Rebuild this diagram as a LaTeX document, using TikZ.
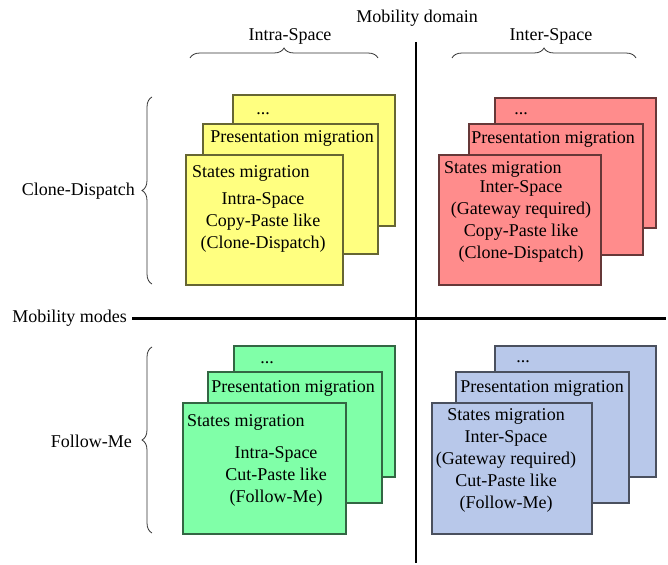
\documentclass[tikz,border=0pt]{standalone}
\usepackage{fontspec}
\setmainfont{Liberation Serif}
\usetikzlibrary{decorations.pathreplacing}

\definecolor{cyellow}{HTML}{FFFF80}
\definecolor{cred}{HTML}{FF8C8C}
\definecolor{cgreen}{HTML}{80FFA8}
\definecolor{cblue}{HTML}{B8C8EA}

\tikzset{
  lbl/.style={font=\fontsize{18}{22}\selectfont, inner sep=0pt, yshift=-1.5pt},
  lines/.style={lbl, align=center},
  card/.style={draw=#1!40!black, fill=#1, line width=1.1pt},
  axis/.style={line width=2.5pt},
  brc/.style={decorate, decoration={brace, amplitude=10pt}, line width=0.8pt, draw=black!80}
}

\begin{document}
\begin{tikzpicture}[x=1pt, y=-1pt]

        \useasboundingbox (0,0) rectangle (668,564);

        % Mobility domain / modes
        \node[lbl] (domain) at (417,17) {Mobility domain};
        \node[lbl, anchor=east] (modes) at (127,317) {Mobility modes};
        \coordinate (top)    at (416,42);
        \coordinate (bottom) at (416,563);
        \coordinate (right)  at (666,317);
        \draw[axis] (top) -- (bottom);
        \draw[axis] ([xshift=5pt]modes.east) -- (right |- modes.east);

        % Columns
        \node[lbl] (intra) at (290,35) {Intra-Space};
        \node[lbl] (inter) at (551,35) {Inter-Space};
        \draw[brc] (190,58) -- (378,58);
        \draw[brc] (452,58) -- (636,58);

        % Rows
        \node[lbl, anchor=east] (clone)  at (135,190) {Clone-Dispatch};
        \node[lbl, anchor=east] (follow) at (132,440) {Follow-Me};
        \draw[brc] (152,284) -- (152,97);
        \draw[brc] (152,533) -- (152,347);

        % Intra-Space, Clone-Dispatch
        \draw[card=cyellow] (233, 95) rectangle (395,226);
        \draw[card=cyellow] (203,124) rectangle (378,254);
        \draw[card=cyellow] (186,155) rectangle (343,285);
        \node[lbl] (ydots) at (263,112) {...};
        \node[lbl] (ypres) at (292,137) {Presentation migration};
        \node[lbl, anchor=west] (ystate) at (192,172) {States migration};
        \node[lines] (ytxt) at (263,221) {Intra-Space\\Copy-Paste like\\(Clone-Dispatch)};

        % Inter-Space, Clone-Dispatch
        \draw[card=cred] (495, 98) rectangle (656,228);
        \draw[card=cred] (469,124) rectangle (643,255);
        \draw[card=cred] (439,155) rectangle (601,285);
        \node[lbl] (rdots) at (521,112) {...};
        \node[lbl] (rpres) at (553,138) {Presentation migration};
        \node[lbl, anchor=west] (rstate) at (444,168) {States migration};
        \node[lines] (rtxt) at (521,220) {Inter-Space\\(Gateway required)\\Copy-Paste like\\(Clone-Dispatch)};

        % Intra-Space, Follow-Me
        \draw[card=cgreen] (234,346) rectangle (395,477);
        \draw[card=cgreen] (208,372) rectangle (382,503);
        \draw[card=cgreen] (183,403) rectangle (346,534);
        \node[lbl] (gdots) at (267,361) {...};
        \node[lbl] (gpres) at (293,387) {Presentation migration};
        \node[lbl, anchor=west] (gstate) at (187,421) {States migration};
        \node[lines] (gtxt) at (276,475) {Intra-Space\\Cut-Paste like\\(Follow-Me)};

        % Inter-Space, Follow-Me
        \draw[card=cblue] (495,346) rectangle (656,477);
        \draw[card=cblue] (456,372) rectangle (629,503);
        \draw[card=cblue] (432,403) rectangle (592,534);
        \node[lbl] (bdots) at (523,360) {...};
        \node[lbl] (bpres) at (542,387) {Presentation migration};
        \node[lines] (btxt) at (506,459) {States migration\\Inter-Space\\(Gateway required)\\Cut-Paste like\\(Follow-Me)};

    \end{tikzpicture}
\end{document}
